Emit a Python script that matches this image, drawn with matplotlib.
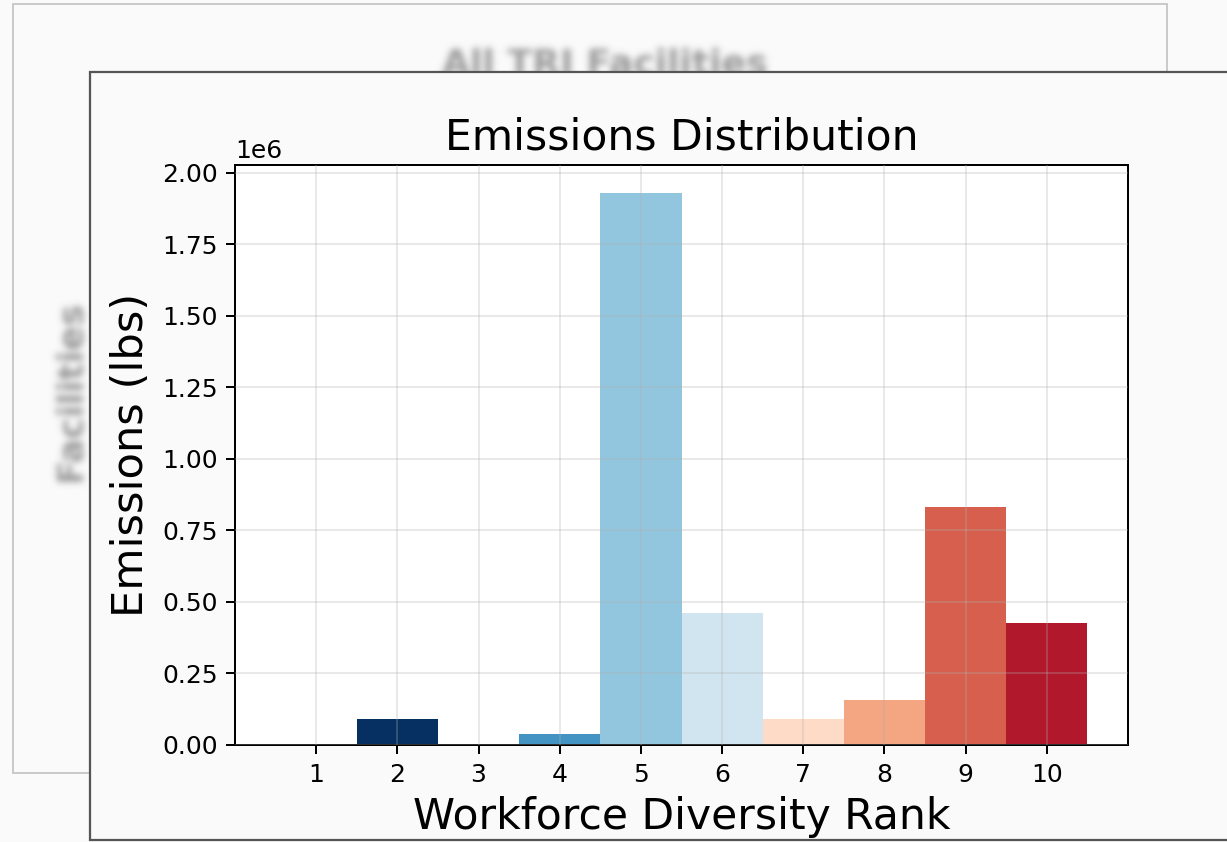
import matplotlib
matplotlib.use("Agg")
import numpy as np
import matplotlib.pyplot as plt
from matplotlib.patches import Rectangle
from matplotlib.figure import Figure
from matplotlib.backends.backend_agg import FigureCanvasAgg

# ---- data ----
ranks = [1, 2, 3, 4, 5, 6, 7, 8, 9, 10]
emissions = [0, 92000, 0, 40000, 1930000, 462000, 92000, 158000, 833000, 428000]
bar_colors = ["#053061", "#053061", "#2166ac", "#4393c3", "#92c5de",
              "#d1e5f0", "#fddbc7", "#f4a582", "#d6604d", "#b2182b"]
title = "Emissions Distribution"
xlabel = "Workforce Diversity Rank"
ylabel = "Emissions (lbs)"
bg_title = "All TRI Facilities"
bg_ylabel = "Facilities"

W, H, DPI = 1227, 842, 180
fig = plt.figure(figsize=(W / DPI, H / DPI), dpi=DPI, facecolor="#fafafa")


def fx(px):
    return px / W


def fy(py):
    return 1 - py / H


# background card
bg = Rectangle((fx(13), fy(773)), fx(1167) - fx(13), fy(4) - fy(773),
               transform=fig.transFigure, facecolor="#fafafa",
               edgecolor="#c4c4c4", linewidth=0.7, zorder=0)
fig.patches.append(bg)


def blurred_text_image(s, size, rotation, sigma, gray=0.45, peak=0.72):
    f = Figure(figsize=(1, 1), dpi=DPI)
    f.patch.set_alpha(0)
    canvas = FigureCanvasAgg(f)
    t = f.text(0.5, 0.5, s, fontsize=size, fontweight="bold", rotation=rotation,
               ha="center", va="center", color="black")
    canvas.draw()
    bb = t.get_window_extent(renderer=canvas.get_renderer())
    pad = int(4 * sigma) + 2
    w = int(np.ceil(bb.width)) + 2 * pad
    h = int(np.ceil(bb.height)) + 2 * pad
    f.set_size_inches(w / DPI, h / DPI)
    canvas.draw()
    a = np.asarray(canvas.buffer_rgba())[..., 3].astype(float) / 255.0
    r = int(3 * sigma)
    xs = np.arange(-r, r + 1)
    k = np.exp(-xs ** 2 / (2 * sigma ** 2))
    k /= k.sum()
    a = np.apply_along_axis(lambda v: np.convolve(v, k, mode="same"), 1, a)
    a = np.apply_along_axis(lambda v: np.convolve(v, k, mode="same"), 0, a)
    img = np.zeros((a.shape[0], a.shape[1], 4))
    img[..., :3] = gray
    img[..., 3] = np.clip(a * peak, 0, 1)
    return img


def place_blurred(s, cx, cy, size, rotation=0, sigma=3.5):
    img = blurred_text_image(s, size, rotation, sigma)
    h, w = img.shape[:2]
    xo = int(round(cx - w / 2))
    yo = int(round(H - cy - h / 2))
    fig.figimage(img, xo=xo, yo=yo, origin="upper", zorder=1)


place_blurred(bg_title, 605, 64, 14.5)
place_blurred(bg_ylabel, 70, 390, 14.5, rotation=90)

# foreground card
fg = Rectangle((fx(90), fy(840)), fx(1240) - fx(90), fy(72) - fy(840),
               transform=fig.transFigure, facecolor="#fafafa",
               edgecolor="#555555", linewidth=0.9, zorder=2)
fig.patches.append(fg)

# axes
ax = fig.add_axes([fx(235), fy(745), fx(1128) - fx(235), fy(165) - fy(745)])
ax.set_zorder(3)
ax.set_facecolor("white")
ax.bar(ranks, emissions, width=1.0, color=bar_colors)
ax.set_xlim(0, 11)
ax.set_xticks(ranks)
ax.set_xticklabels([str(r) for r in ranks])
ax.grid(True, color="#b0b0b0", alpha=0.27, linewidth=0.8)
ax.set_axisbelow(False)
ax.tick_params(labelsize=10)
ax.yaxis.get_offset_text().set_fontsize(10)
ax.set_title(title, fontsize=17)
ax.set_xlabel(xlabel, fontsize=17)
ax.set_ylabel(ylabel, fontsize=17.3)

fig.savefig("out.png", dpi=DPI, facecolor=fig.get_facecolor())
